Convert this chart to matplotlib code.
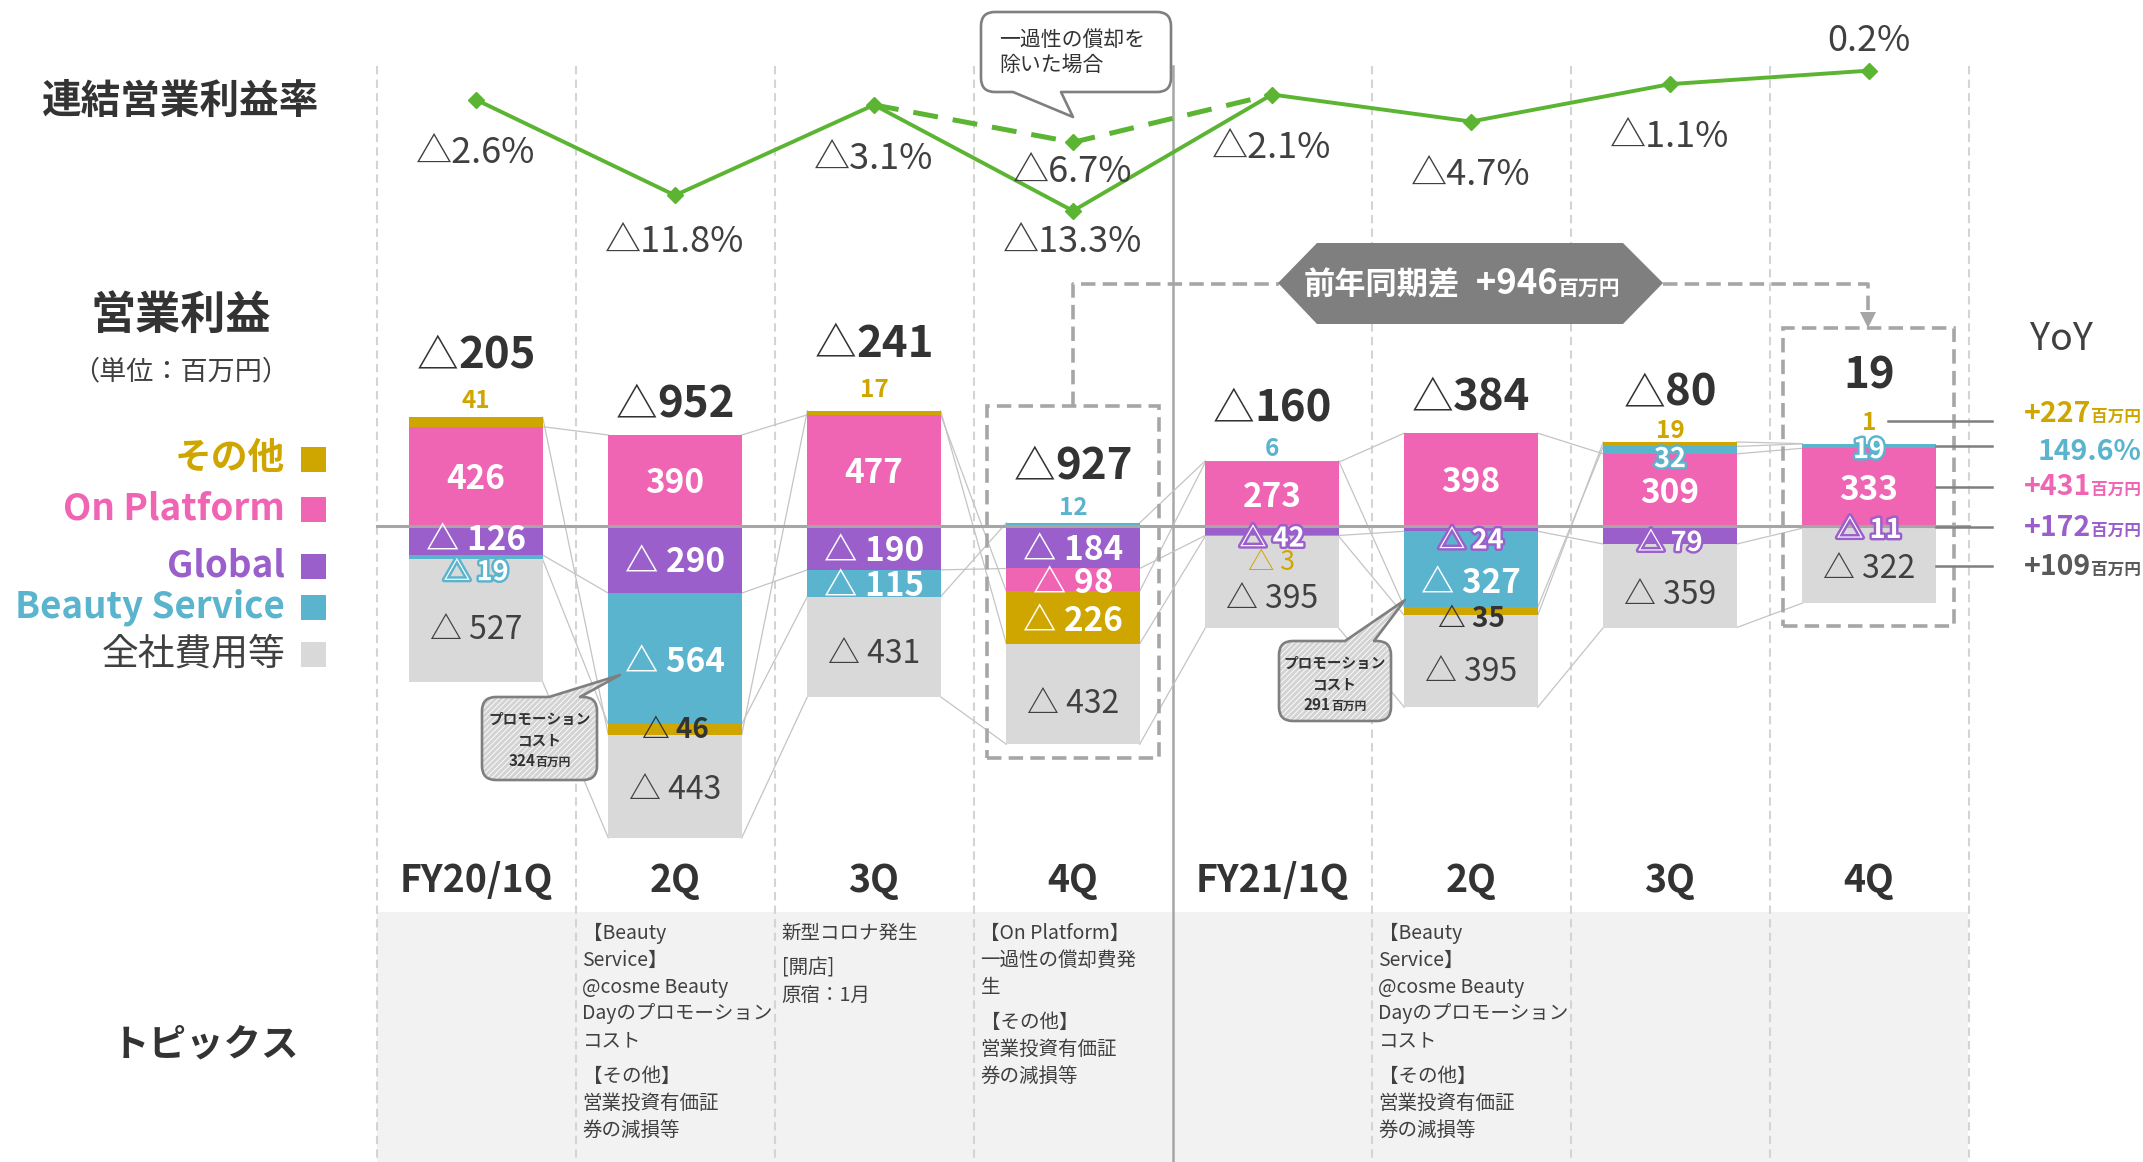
import matplotlib
matplotlib.use('Agg')
import matplotlib.pyplot as plt
import matplotlib.patheffects as pe
from matplotlib.offsetbox import TextArea, HPacker, AnnotationBbox
from matplotlib.path import Path
from matplotlib.patches import PathPatch, Rectangle, Polygon
import numpy as np

plt.rcParams['font.family'] = ['Noto Sans CJK JP', 'DejaVu Sans']
plt.rcParams['hatch.linewidth'] = 2.2

# ---------------- data ----------------
quarters = ['FY20/1Q', '2Q', '3Q', '4Q', 'FY21/1Q', '2Q', '3Q', '4Q']
seg_names = ['Global', 'On Platform', 'Beauty Service', 'その他', '全社費用等']  # stacking order
global_vals = [-126, -290, -190, -184, -42, -24, -79, -11]
onplat_vals = [426, 390, 477, -98, 273, 398, 309, 333]
beauty_vals = [-19, -564, -115, 12, 6, -327, 32, 19]
other_vals = [41, -46, 17, -226, -3, -35, 19, 1]
corp_vals = [-527, -443, -431, -432, -395, -395, -359, -322]
total_vals = [-205, -952, -241, -927, -160, -384, -80, 19]
margin_pct = [-2.6, -11.8, -3.1, -13.3, -2.1, -4.7, -1.1, 0.2]
margin_adj_idx = [2, 3, 4]
margin_adj_pct = [-3.1, -6.7, -2.1]
yoy_series = ['その他', 'Beauty Service', 'On Platform', 'Global', '全社費用等']
yoy_nums = ['+227', '149.6%', '+431', '+172', '+109']
yoy_units = ['百万円', '', '百万円', '百万円', '百万円']
yoy_total = '+946'
promo_cost = {1: '324', 5: '291'}
topics = {
    1: [['【Beauty', 'Service】', '@cosme Beauty', 'Dayのプロモーション', 'コスト'],
        ['【その他】', '営業投資有価証', '券の減損等']],
    2: [['新型コロナ発生'], ['[開店]', '原宿：1月']],
    3: [['【On Platform】', '一過性の償却費発', '生'], ['【その他】', '営業投資有価証', '券の減損等']],
    5: [['【Beauty', 'Service】', '@cosme Beauty', 'Dayのプロモーション', 'コスト'],
        ['【その他】', '営業投資有価証', '券の減損等']],
}

# ---------------- style ----------------
C_GLB, C_ONP, C_BS, C_OTH, C_CORP = '#9B5FCC', '#F064B4', '#5AB4CE', '#CFA600', '#D9D9D9'
seg_cols = [C_GLB, C_ONP, C_BS, C_OTH, C_CORP]
GREEN = '#5BB432'
DARK = '#333333'
MID = '#404040'

W, H = 2143, 1162
fig = plt.figure(figsize=(W / 100, H / 100), dpi=100)
fig.patch.set_facecolor('white')
ax = fig.add_axes([0, 0, 1, 1])
CX0, CW = 476.0, 199.0
Y0, YS = 525.7, 0.2325
ax.set_xlim(-CX0 / CW, (W - CX0) / CW)
ax.set_ylim((Y0 - H) / YS, Y0 / YS)
ax.axis('off')

axl = fig.add_axes([0, 0, 1, 1])
L0, LS = 72.7, 10.39
axl.set_xlim(ax.get_xlim())
axl.set_ylim((L0 - H) / LS, L0 / LS)
axl.axis('off')


def X(px):
    return (px - CX0) / CW


def Y(py):
    return (Y0 - py) / YS


def T(px, py, s, **kw):
    return ax.text(X(px), Y(py), s, **kw)


def mixed(parts, xy, align=(0.5, 0.5), xybox=None, z=6):
    areas = [TextArea(s, textprops=p) for s, p in parts]
    box = HPacker(children=areas, align='baseline', pad=0, sep=0)
    kw = dict(frameon=False, box_alignment=align, pad=0, zorder=z)
    if xybox is not None:
        kw.update(xybox=xybox, boxcoords='offset pixels')
    ab = AnnotationBbox(box, xy, xycoords='data', **kw)
    ax.add_artist(ab)


n = len(quarters)
xs = np.arange(n)
BW = 0.67

# topics band
ax.add_patch(Rectangle((X(377), Y(1162)), X(1968) - X(377), Y(912) - Y(1162),
                       facecolor='#F2F2F2', edgecolor='none', zorder=0.5))
# column separators
for k in range(n + 1):
    b = k - 0.5
    if k == 4:
        ax.plot([b, b], [Y(66), Y(1162)], color='#A6A6A6', lw=1.8, zorder=1)
    else:
        ax.plot([b, b], [Y(66), Y(1162)], color='#D4D4D4', lw=1.5, dashes=(4, 2.5), zorder=1)

# ---------------- stacked bars ----------------
seg_vals = [global_vals, onplat_vals, beauty_vals, other_vals, corp_vals]
pos = np.zeros(n)
neg = np.zeros(n)
bottoms, ends = [], []
for vals, col in zip(seg_vals, seg_cols):
    v = np.array(vals, float)
    b = np.where(v >= 0, pos, neg)
    ax.bar(xs, v, BW, bottom=b, color=col, linewidth=0, zorder=2)
    bottoms.append(b.copy())
    ends.append(b + v)
    pos = np.where(v >= 0, pos + v, pos)
    neg = np.where(v < 0, neg + v, neg)
tops = pos.copy()

for e in ends:
    for i in range(n - 1):
        ax.plot([i + BW / 2, i + 1 - BW / 2], [e[i], e[i + 1]], color='#C4C4C4', lw=0.9, zorder=1.6)

ax.plot([-0.5, 7.5], [0, 0], color='#A6A6A6', lw=2.2, zorder=3)

# segment labels: series index -> (style, dy px)
G, O, B, S, C = 0, 1, 2, 3, 4
labspec = [
    {S: ('ag', -19), O: ('w', 0), G: ('w', -3), B: ('gc', 12), C: ('d', 6)},
    {O: ('w', 0), G: ('w', 0), B: ('w', 0), S: ('db', -3), C: ('d', 0)},
    {S: ('ag', -23), O: ('w', 0), G: ('w', 0), B: ('w', 0), C: ('d', 4)},
    {B: ('ac', -17), G: ('w', 0), O: ('w', 0), S: ('w', 0), C: ('d', 6)},
    {B: ('ac', -14), O: ('w', 0), G: ('gp', 5), S: ('go', 24), C: ('d', 13)},
    {O: ('w', 0), G: ('gp', 9), B: ('w', 11), S: ('db', 5), C: ('d', 7)},
    {S: ('ag', -14), B: ('gc', 6), O: ('w', 0), G: ('gp', 5), C: ('d', 6)},
    {S: ('ag', -23), B: ('gc', 1), O: ('w', 0), G: ('gp', 0), C: ('d', 0)},
]
other_label_y = None
for i in range(n):
    for si, (style, dpx) in labspec[i].items():
        v = seg_vals[si][i]
        txt = f'△ {abs(v)}' if v < 0 else f'{v}'
        if style in ('ag', 'ac'):
            ypx = Y0 - tops[i] * YS + dpx
        else:
            cen = bottoms[si][i] + v / 2
            ypx = Y0 - cen * YS + dpx
        kw = dict(ha='center', va='center_baseline', zorder=5)
        if style == 'w':
            kw.update(color='white', fontsize=24, fontweight='bold')
        elif style == 'd':
            kw.update(color=MID, fontsize=23)
        elif style == 'db':
            kw.update(color=DARK, fontsize=20, fontweight='bold')
        elif style == 'gc':
            kw.update(color='white', fontsize=19.5, fontweight='bold',
                      path_effects=[pe.withStroke(linewidth=3.5, foreground=C_BS)])
        elif style == 'gp':
            kw.update(color='white', fontsize=19.5, fontweight='bold',
                      path_effects=[pe.withStroke(linewidth=3.5, foreground=C_GLB)])
        elif style == 'ag':
            kw.update(color=C_OTH, fontsize=17.5, fontweight='bold')
        elif style == 'ac':
            kw.update(color=C_BS, fontsize=17.5, fontweight='bold')
        elif style == 'go':
            kw.update(color=C_OTH, fontsize=19)
        T(CX0 + CW * i, ypx, txt, **kw)
        if i == n - 1 and si == S:
            other_label_y = ypx

# totals
tot_off = [64, 33, 69, 58, 54, 38, 51, 70]
for i, v in enumerate(total_vals):
    parts = []
    if v < 0:
        parts.append(('△', dict(fontsize=30, color=DARK)))
    parts.append((f'{abs(v)}', dict(fontsize=31.5, color=DARK, fontweight='bold')))
    mixed(parts, (i, tops[i]), xybox=(0, tot_off[i] - 2))

# ---------------- margin line ----------------
axl.plot(margin_adj_idx, margin_adj_pct, color=GREEN, lw=3.6, dashes=(5, 3), zorder=2)
axl.plot(xs, margin_pct, color=GREEN, lw=2.8, marker='D', ms=8.5, zorder=3)
axl.plot([margin_adj_idx[1]], [margin_adj_pct[1]], color=GREEN, marker='D', ms=8.5, zorder=3)
pct_off = [53, 47, 54, 31, 53, 53, 53, -30]
for i, p in enumerate(margin_pct):
    s = f'△{abs(p):.1f}%' if p < 0 else f'{p:.1f}%'
    axl.annotate(s, (i, p), xytext=(0, -pct_off[i]), textcoords='offset pixels',
                 ha='center', va='center', fontsize=26, color=MID, zorder=4)
axl.annotate(f'△{abs(margin_adj_pct[1]):.1f}%', (margin_adj_idx[1], margin_adj_pct[1]),
             xytext=(0, -30), textcoords='offset pixels', ha='center', va='center',
             fontsize=26, color=MID, zorder=4)


# ---------------- callouts ----------------
def callout(x0, y0, x1, y1, r, side, b0, b1, tip, hatch=None, z=6):
    v, c = [], []

    def M(p):
        v.append(p); c.append(Path.MOVETO)

    def L(p):
        v.append(p); c.append(Path.LINETO)

    def Q(ctrl, p):
        v.extend([ctrl, p]); c.extend([Path.CURVE3, Path.CURVE3])

    M((x0 + r, y0))
    if side == 'top':
        L((b0, y0)); L(tip); L((b1, y0))
    L((x1 - r, y0)); Q((x1, y0), (x1, y0 + r))
    L((x1, y1 - r)); Q((x1, y1), (x1 - r, y1))
    if side == 'bottom':
        L((b1, y1)); L(tip); L((b0, y1))
    L((x0 + r, y1)); Q((x0, y1), (x0, y1 - r))
    L((x0, y0 + r)); Q((x0, y0), (x0 + r, y0))
    v.append((x0 + r, y0)); c.append(Path.CLOSEPOLY)
    path = Path([(X(a), Y(b)) for a, b in v], c)
    ax.add_patch(PathPatch(path, facecolor='white', edgecolor='none', zorder=z))
    if hatch:
        ax.add_patch(PathPatch(path, facecolor='none', edgecolor='#D3D3D3', hatch=hatch,
                               lw=0, zorder=z + 0.05))
    ax.add_patch(PathPatch(path, fill=False, edgecolor='#7F7F7F', lw=1.9,
                           joinstyle='round', zorder=z + 0.1))


callout(981, 12, 1171, 92, 14, 'bottom', 1013, 1061, (1073, 117))
T(999, 40, '一過性の償却を', ha='left', va='center', fontsize=15, color=DARK, zorder=7)
T(999, 65, '除いた場合', ha='left', va='center', fontsize=15, color=DARK, zorder=7)

promo_geo = {1: ((482, 697, 597, 780), (549, 580), (620, 675)),
             5: ((1279, 641, 1391, 721), (1345, 1374), (1405, 600))}
for qi, ((bx0, by0, bx1, by1), (w0, w1), tip) in promo_geo.items():
    callout(bx0, by0, bx1, by1, 14, 'top', w0, w1, tip, hatch='//////')
    cx = (bx0 + bx1) / 2
    T(cx, by0 + 22, 'プロモーション', ha='center', va='center', fontsize=10.5,
      fontweight='bold', color=DARK, zorder=7)
    T(cx, by0 + 43, 'コスト', ha='center', va='center', fontsize=10.5,
      fontweight='bold', color=DARK, zorder=7)
    mixed([(promo_cost[qi], dict(fontsize=11, fontweight='bold', color=DARK)),
           ('百万円', dict(fontsize=8.5, fontweight='bold', color=DARK))],
          (X(cx), Y(by0 + 64)), z=7)

# ---------------- dashed boxes / yoy connector ----------------
DG = '#A6A6A6'
for (bx0, by0, bx1, by1) in [(987, 406, 1159, 758), (1783, 328, 1954, 626)]:
    ax.add_patch(Rectangle((X(bx0), Y(by1)), X(bx1) - X(bx0), Y(by0) - Y(by1), fill=False,
                           edgecolor=DG, lw=2.6, ls=(0, (4, 2)), zorder=4))
ax.plot([X(1073), X(1073), X(1279)], [Y(406), Y(284), Y(284)], color=DG, lw=2.6,
        dashes=(4, 2), zorder=4)
ax.plot([X(1663), X(1868), X(1868)], [Y(284), Y(284), Y(313)], color=DG, lw=2.6,
        dashes=(4, 2), zorder=4)
ax.add_patch(Polygon([(X(1860), Y(312)), (X(1876), Y(312)), (X(1868), Y(328))],
                     closed=True, facecolor=DG, edgecolor='none', zorder=4))
hexa = [(1278, 283), (1317, 243), (1623, 243), (1663, 283), (1623, 324), (1317, 324)]
ax.add_patch(Polygon([(X(a), Y(b)) for a, b in hexa], closed=True, facecolor='#7F7F7F',
                     edgecolor='none', zorder=5))
mixed([('前年同期差', dict(fontsize=22.5, fontweight='bold', color='white')),
       ('  ' + yoy_total, dict(fontsize=25, fontweight='bold', color='white')),
       ('百万円', dict(fontsize=15, fontweight='bold', color='white'))],
      (X(1462), Y(284)), z=6)

# YoY column
T(2061, 340, 'YoY', ha='center', va='center', fontsize=27, color=MID)
bar_right = 7 + BW / 2
yoy_cols = {'その他': C_OTH, 'Beauty Service': C_BS, 'On Platform': C_ONP,
            'Global': C_GLB, '全社費用等': '#595959'}
yoy_text_dy = {'その他': -7, 'Beauty Service': 6, 'On Platform': 0, 'Global': 1, '全社費用等': 1}
for name, num, unit in zip(yoy_series, yoy_nums, yoy_units):
    si = seg_names.index(name)
    if name == 'その他':
        lypx = other_label_y
        x_start = X(1888)
    else:
        lypx = Y0 - (bottoms[si][7] + seg_vals[si][7] / 2) * YS
        x_start = bar_right
    ax.plot([x_start, X(1992)], [Y(lypx), Y(lypx)], color='#7F7F7F', lw=1.8, zorder=4)
    parts = [(num, dict(fontsize=20.5, fontweight='bold', color=yoy_cols[name]))]
    if unit:
        parts.append((unit, dict(fontsize=12, fontweight='bold', color=yoy_cols[name])))
    mixed(parts, (X(2141), Y(lypx + yoy_text_dy[name])), align=(1.0, 0.5))

# ---------------- left titles / legend ----------------
T(181, 101, '連結営業利益率', ha='center', va='center', fontsize=28.5, fontweight='bold', color=DARK)
T(181, 316, '営業利益', ha='center', va='center', fontsize=32.5, fontweight='bold', color=DARK)
T(181, 372, '（単位：百万円）', ha='center', va='center', fontsize=19.5, color=MID)
T(205, 1044, 'トピックス', ha='center', va='center', fontsize=27, fontweight='bold', color=DARK)

legend_items = [('その他', C_OTH, 459, 'bold'), ('On Platform', C_ONP, 509, 'bold'),
                ('Global', C_GLB, 566, 'bold'), ('Beauty Service', C_BS, 607, 'bold'),
                ('全社費用等', C_CORP, 654, 'normal')]
for name, col, ly, wt in legend_items:
    tc = col if wt == 'bold' else MID
    T(285, ly, name, ha='right', va='center', fontsize=26.5, fontweight=wt, color=tc)
    ax.add_patch(Rectangle((X(301), Y(ly + 12.5)), 25 / CW, 25 / YS, facecolor=col,
                           edgecolor='none', zorder=3))

# quarter labels
for i, q in enumerate(quarters):
    T(CX0 + CW * i, 881, q, ha='center', va='center', fontsize=27, fontweight='bold', color=DARK)

# topics text
for qi, paras in topics.items():
    xl = CX0 + CW * (qi - 0.5) + 7
    yy = 933
    for pi, para in enumerate(paras):
        if pi > 0:
            yy += 8
        for line in para:
            T(xl, yy, line, ha='left', va='center', fontsize=14, color=MID, zorder=3)
            yy += 27

fig.savefig('out.png', dpi=100)
